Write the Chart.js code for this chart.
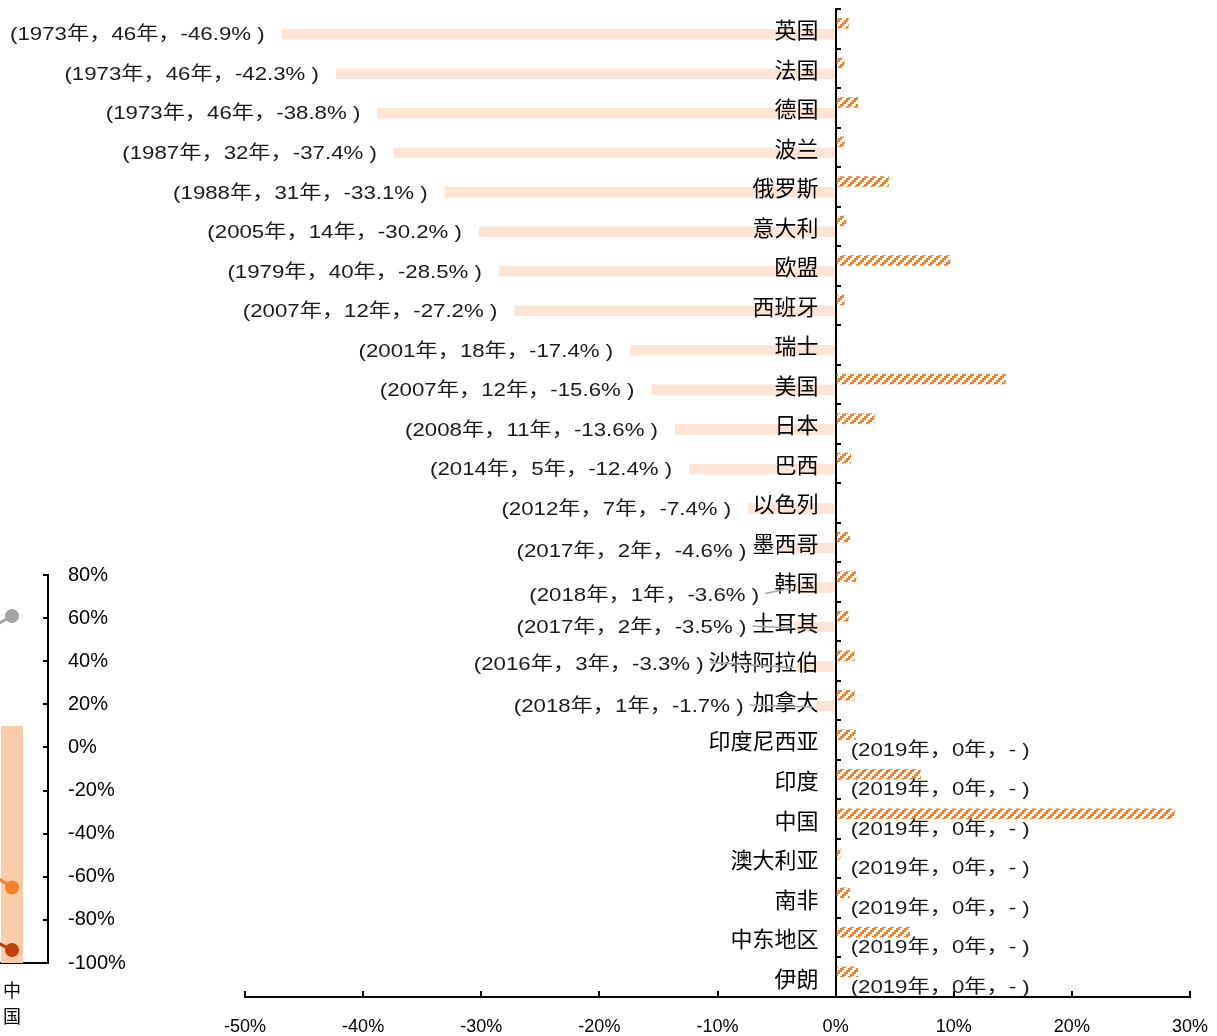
<!DOCTYPE html>
<html>
<head>
<meta charset="utf-8">
<script src="https://cdn.jsdelivr.net/npm/chart.js@4.4.1/dist/chart.umd.min.js"></script>
<style>
  html, body { margin: 0; padding: 0; background: #fff; overflow: hidden; }
  #wrap { position: relative; width: 1217px; height: 1036px; overflow: hidden; }
  #main { position: absolute; left: 0; top: 0; }
  #side { position: absolute; left: -110px; top: 550px; }
</style>
</head>
<body>
<div id="wrap">
  <canvas id="main" width="1217" height="1036"></canvas>
  <canvas id="side" width="260" height="486"></canvas>
</div>
<script>
// ---- data ----
const countries = ['英国', '法国', '德国', '波兰', '俄罗斯', '意大利', '欧盟', '西班牙', '瑞士', '美国',
  '日本', '巴西', '以色列', '墨西哥', '韩国', '土耳其', '沙特阿拉伯', '加拿大', '印度尼西亚', '印度',
  '中国', '澳大利亚', '南非', '中东地区', '伊朗'];
// share (%), hatched bars
const shareValues = [1.1, 0.75, 1.9, 0.75, 4.5, 0.9, 9.7, 0.75, 0, 14.4,
  3.3, 1.3, 0, 1.2, 1.75, 1.1, 1.6, 1.6, 1.7, 7.2,
  28.7, 0.4, 1.2, 6.3, 1.9];
// change since peak (%), light bars
const declineValues = [-46.9, -42.3, -38.8, -37.4, -33.1, -30.2, -28.5, -27.2, -17.4, -15.6,
  -13.6, -12.4, -7.4, -4.6, -3.6, -3.5, -3.3, -1.7, 0, 0,
  0, 0, 0, 0, 0];
const peakYears = [1973, 1973, 1973, 1987, 1988, 2005, 1979, 2007, 2001, 2007,
  2008, 2014, 2012, 2017, 2018, 2017, 2016, 2018, 2019, 2019,
  2019, 2019, 2019, 2019, 2019];
const yearsSincePeak = [46, 46, 46, 32, 31, 14, 40, 12, 18, 12,
  11, 5, 7, 2, 1, 2, 3, 1, 0, 0,
  0, 0, 0, 0, 0];
const xTickValues = [-50, -40, -30, -20, -10, 0, 10, 20, 30];

// side panel
const sideCategories = ['', ['中', '国']];
const sideBarRange = [[-100, 10], [-100, 10]];
const sideGrey = [42, 61];
const sideOrange = [-43, -65];
const sideDarkRed = [-77, -94];
const sideTickValues = [80, 60, 40, 20, 0, -20, -40, -60, -80, -100];

// ---- styles ----
const CJK = '"Noto Sans CJK SC"';
const LATIN = '"Liberation Sans", Arial';
const ORANGE = '#F5822A';
const PEACH = '#FDE4D5';

// hatched fill: 2px staircase diagonal stripes
function makeHatch(color) {
  const c = document.createElement('canvas');
  c.width = 8; c.height = 8;
  const g = c.getContext('2d');
  g.fillStyle = color;
  for (let r = 0; r < 4; r++) {
    for (let col = 0; col < 4; col++) {
      if ((col + r) % 4 < 2) g.fillRect(col * 2, r * 2, 2, 2);
    }
  }
  return document.createElement('canvas').getContext('2d').createPattern(c, 'repeat');
}
const hatch = makeHatch(ORANGE);

// label nudges for crowded rows: [dx, dy, leader line]
const labelNudge = {
  13: [-18, 3, false],
  14: [-17, 7, true],
  15: [-31, 0, true],
  16: [-76, -3, true],
  17: [-55, 0, true]
};
const LABEL_FONT = '19px ' + LATIN + ', ' + CJK;
const LABEL_STRETCH = 1.17;

function labelText(i) {
  const v = declineValues[i];
  const tail = v === 0 ? '-' : v.toFixed(1) + '%';
  return '(' + peakYears[i] + '年，' + yearsSincePeak[i] + '年，' + tail + ' )';
}

// horizontally widened text, anchored at its right or left end
function wideText(ctx, text, x, y, align) {
  ctx.save();
  ctx.translate(x, y);
  ctx.scale(LABEL_STRETCH, 1);
  ctx.textAlign = align;
  ctx.fillText(text, 0, 0);
  ctx.restore();
}

const valueLabels = {
  id: 'valueLabels',
  afterDatasetsDraw(chart) {
    const ctx = chart.ctx;
    const meta = chart.getDatasetMeta(1);
    ctx.save();
    ctx.font = LABEL_FONT;
    ctx.fillStyle = '#1a1a1a';
    ctx.textBaseline = 'middle';
    meta.data.forEach((bar, i) => {
      const v = declineValues[i];
      const text = labelText(i);
      if (v < 0) {
        const n = labelNudge[i] || [0, 0, false];
        wideText(ctx, text, bar.x - 17 + n[0], bar.y + 1 + n[1], 'right');
      } else {
        wideText(ctx, text, bar.base + 15, bar.y + 5, 'left');
      }
    });
    // country names beside the zero line
    const ys = chart.scales.y;
    const zero = chart.scales.x.getPixelForValue(0);
    ctx.font = '22px ' + CJK;
    ctx.fillStyle = '#000';
    ctx.textAlign = 'right';
    chart.data.labels.forEach((name, i) => {
      ctx.fillText(name, zero - 17, ys.getPixelForValue(i) + 1);
    });
    ctx.restore();
  },
  afterDraw(chart) {
    const ctx = chart.ctx;
    const meta = chart.getDatasetMeta(1);
    ctx.save();
    ctx.strokeStyle = '#A6A6A6';
    ctx.lineWidth = 1.5;
    meta.data.forEach((bar, i) => {
      const n = labelNudge[i];
      if (!n || !n[2]) return;
      const right = bar.x - 17 + n[0];
      const y = bar.y + 1 + n[1];
      ctx.beginPath();
      ctx.moveTo(right + 6, y - 2);
      ctx.lineTo(bar.x - 3, bar.y + 1);
      ctx.stroke();
    });
    ctx.restore();
  }
};

new Chart(document.getElementById('main'), {
  type: 'bar',
  data: {
    labels: countries,
    datasets: [
      { label: '占比', data: shareValues, backgroundColor: hatch, barPercentage: 0.97, categoryPercentage: 0.55 },
      { label: '较峰值变化', data: declineValues, backgroundColor: PEACH, barPercentage: 0.97, categoryPercentage: 0.55 }
    ]
  },
  options: {
    indexAxis: 'y',
    responsive: false,
    animation: false,
    devicePixelRatio: 1,
    layout: { padding: { left: 245, right: 27, top: 9, bottom: 0 } },
    plugins: { legend: { display: false }, tooltip: { enabled: false } },
    scales: {
      x: {
        type: 'linear', min: -50, max: 30, position: 'bottom',
        afterBuildTicks: s => { s.ticks = xTickValues.map(v => ({ value: v })); },
        afterFit: s => { s.height = 39; s.paddingLeft = 0; s.paddingRight = 0; },
        ticks: { callback: v => v + '%', color: '#000', font: { family: LATIN, size: 18 }, padding: 25, maxRotation: 0 },
        grid: { drawOnChartArea: false, tickLength: -6, color: '#000', lineWidth: 2 },
        border: { color: '#000', width: 2 }
      },
      y: {
        type: 'category', position: { x: 0 },
        afterFit: s => { s.paddingTop = 0; s.paddingBottom = 0; },
        ticks: { display: false, autoSkip: false },
        grid: { drawOnChartArea: false, offset: true, tickLength: -6, color: '#000', lineWidth: 2 },
        border: { color: '#000', width: 2 }
      }
    }
  },
  plugins: [valueLabels]
});

// side panel: bar + three lines on a right-hand axis
new Chart(document.getElementById('side'), {
  type: 'bar',
  data: {
    labels: sideCategories,
    datasets: [
      { type: 'line', data: sideGrey, borderColor: '#A5A5A5', backgroundColor: '#A5A5A5', borderWidth: 3, pointRadius: 5.5, order: 1 },
      { type: 'line', data: sideOrange, borderColor: ORANGE, backgroundColor: ORANGE, borderWidth: 3, pointRadius: 5.5, order: 1 },
      { type: 'line', data: sideDarkRed, borderColor: '#C0410F', backgroundColor: '#C0410F', borderWidth: 3, pointRadius: 5.5, order: 1 },
      { type: 'bar', data: sideBarRange, backgroundColor: '#FBCBAA', barPercentage: 0.6, categoryPercentage: 0.51, order: 2 }
    ]
  },
  options: {
    responsive: false,
    animation: false,
    devicePixelRatio: 1,
    layout: { padding: { left: 14, top: 25, right: 0, bottom: 0 } },
    plugins: { legend: { display: false }, tooltip: { enabled: false } },
    scales: {
      x: {
        type: 'category',
        afterFit: s => { s.height = 73; s.paddingLeft = 0; s.paddingRight = 0; },
        ticks: { color: '#000', font: { family: CJK, size: 18, lineHeight: 1.45 }, padding: 14, maxRotation: 0, autoSkip: false },
        grid: { display: false, drawTicks: false },
        border: { color: '#000', width: 2 }
      },
      y: {
        type: 'linear', position: 'right', min: -100, max: 80,
        afterBuildTicks: s => { s.ticks = sideTickValues.map(v => ({ value: v })); },
        afterFit: s => { s.width = 102; s.paddingTop = 0; s.paddingBottom = 0; },
        ticks: { callback: v => v + '%', color: '#000', font: { family: LATIN, size: 20 }, padding: 25 },
        grid: { drawOnChartArea: false, tickLength: -5, color: '#000', lineWidth: 2 },
        border: { color: '#000', width: 2 }
      }
    }
  }
});
</script>
</body>
</html>
